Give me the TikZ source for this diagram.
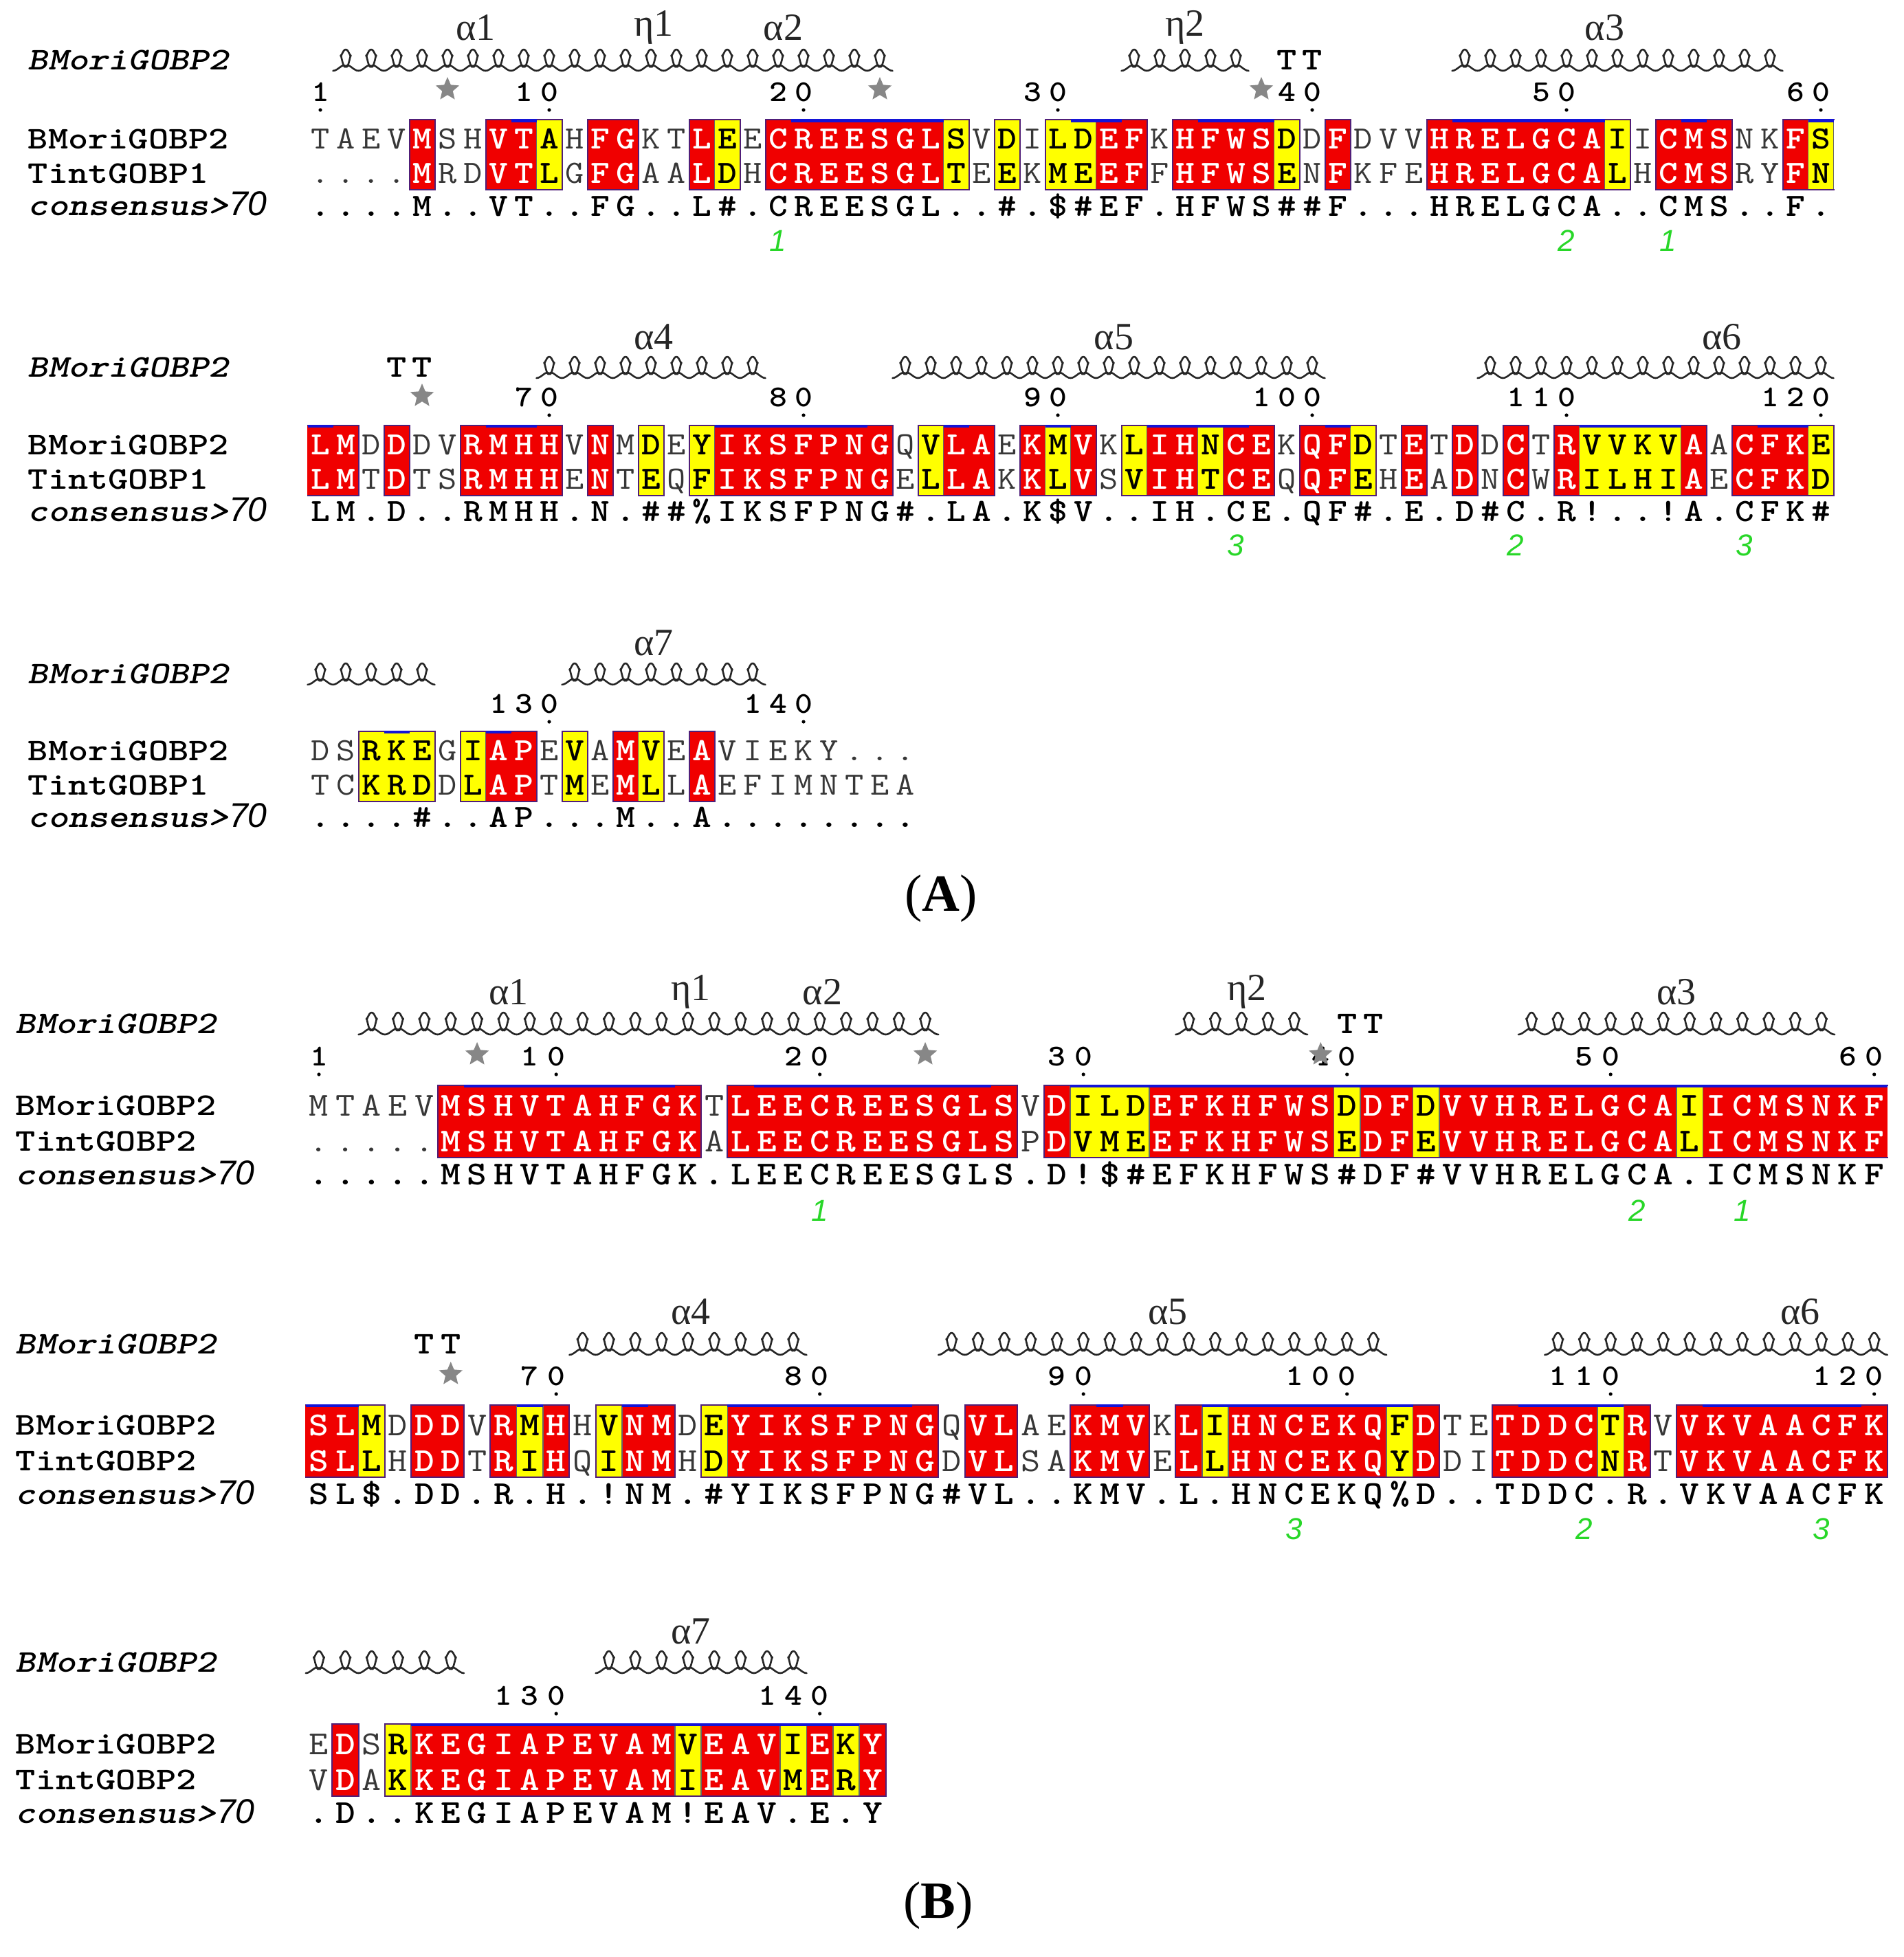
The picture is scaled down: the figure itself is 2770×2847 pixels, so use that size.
\documentclass[tikz,border=0pt]{standalone}
\usepackage{fontspec}
\usetikzlibrary{shapes.geometric}
\newfontfamily\rsserif{Liberation Serif}
\newfontfamily\rssans{Liberation Sans}
\definecolor{rsred}{RGB}{240,0,0}
\definecolor{rsyel}{RGB}{255,255,0}
\definecolor{rsblue}{RGB}{20,20,215}
\definecolor{rsframe}{RGB}{80,30,120}
\definecolor{rsgray}{RGB}{55,55,55}
\definecolor{rsstargray}{RGB}{135,135,135}
\definecolor{rsgreen}{RGB}{40,215,40}

\def\RSxo{466}\def\RSpitch{37}\def\RSgap{50}\def\RSgapc{97}\def\RSmt{27}\def\RSmb{24.5}\def\RSbase{15.5}\def\RSfs{11.8}\def\RShh{31}
\def\RShs{1.12}

\newcount\RScnt
\newcommand\RSfill[5]{\fill[#1] (#2,#3) rectangle (#4,#5);}
\newcommand\RSline[5]{\draw[#1] (#2,#3) -- (#4,#5);}
\newcommand\RSchar[4]{\global\advance\RScnt by 1\relax\node[#3] (c\the\RScnt) at (#1,#2) {\scalebox{\RShs}[1]{#4}};}
\newcommand\RSdot[2]{\global\advance\RScnt by 1\relax\node[rsdot] (d\the\RScnt) at (#1,#2) {};}

\ExplSyntaxOn
\str_new:N \l__rs_codes_str
\str_new:N \l__rs_sa_str
\str_new:N \l__rs_sb_str
\str_new:N \l__rs_sc_str
\str_new:N \l__rs_cur_str
\str_new:N \l__rs_prev_str
\str_new:N \l__rs_next_str
\str_new:N \l__rs_num_str
\tl_new:N \l__rs_ch_tl
\tl_new:N \l__rs_sty_tl
\tl_new:N \l__rs_top_tl
\tl_new:N \l__rs_bot_tl
\tl_new:N \l__rs_xl_tl
\tl_new:N \l__rs_xr_tl
\tl_new:N \l__rs_xc_tl
\int_new:N \l__rs_n_int
\int_new:N \l__rs_k_int
\int_new:N \l__rs_start_int
\int_new:N \l__rs_bs_int
\int_new:N \l__rs_be_int
\bool_new:N \l__rs_lopen_bool
\bool_new:N \l__rs_ropen_bool
\bool_new:N \l__rs_flag_bool
\bool_new:N \l__rs_lo_bool
\bool_new:N \l__rs_ro_bool

\cs_new:Npn \RSx #1 { \fp_eval:n { \RSxo + (#1 - 1) * \RSpitch } }

\cs_new_protected:Npn \__rs_frame:nn #1 #2
 {
  \bool_set_false:N \l__rs_lo_bool
  \bool_set_false:N \l__rs_ro_bool
  \bool_if:NT \l__rs_lopen_bool { \int_compare:nNnT {#1} = {1} { \bool_set_true:N \l__rs_lo_bool } }
  \bool_if:NT \l__rs_ropen_bool { \int_compare:nNnT {#2} = { \l__rs_n_int } { \bool_set_true:N \l__rs_ro_bool } }
  \tl_set:Nx \l__rs_xl_tl { \fp_eval:n { \RSxo + (#1 - 1.5) * \RSpitch } }
  \tl_set:Nx \l__rs_xr_tl { \fp_eval:n { \RSxo + (#2 - 0.5) * \RSpitch } }
  \use:e { \exp_not:N \RSline {rsfr} {\l__rs_xl_tl} {\l__rs_top_tl} {\l__rs_xr_tl} {\l__rs_top_tl} }
  \use:e { \exp_not:N \RSline {rsfr} {\l__rs_xl_tl} {\l__rs_bot_tl} {\l__rs_xr_tl} {\l__rs_bot_tl} }
  \bool_if:NF \l__rs_lo_bool { \use:e { \exp_not:N \RSline {rsfr} {\l__rs_xl_tl} {\l__rs_top_tl} {\l__rs_xl_tl} {\l__rs_bot_tl} } }
  \bool_if:NF \l__rs_ro_bool { \use:e { \exp_not:N \RSline {rsfr} {\l__rs_xr_tl} {\l__rs_top_tl} {\l__rs_xr_tl} {\l__rs_bot_tl} } }
  \bool_if:NTF \l__rs_lo_bool { \int_set:Nn \l__rs_bs_int {#1} } { \int_set:Nn \l__rs_bs_int {#1 + 1} }
  \bool_if:NTF \l__rs_ro_bool { \int_set:Nn \l__rs_be_int {#2} } { \int_set:Nn \l__rs_be_int {#2 - 1} }
  \int_compare:nNnF { \l__rs_bs_int } > { \l__rs_be_int }
   {
    \use:e { \exp_not:N \RSline {rsbar}
      { \fp_eval:n { \RSxo + (\int_use:N \l__rs_bs_int - 1.5) * \RSpitch } } { \fp_eval:n { \l__rs_top_tl + 1 } }
      { \fp_eval:n { \RSxo + (\int_use:N \l__rs_be_int - 0.5) * \RSpitch } } { \fp_eval:n { \l__rs_top_tl + 1 } } }
   }
 }

\NewDocumentCommand{\RSblock}{mmmmmmm}
 {
  \str_set:Nn \l__rs_codes_str {#2}
  \str_set:Nn \l__rs_sa_str {#3}
  \str_set:Nn \l__rs_sb_str {#4}
  \str_set:Nn \l__rs_sc_str {#5}
  \str_remove_all:Nn \l__rs_codes_str {~}
  \str_remove_all:Nn \l__rs_sa_str {~}
  \str_remove_all:Nn \l__rs_sb_str {~}
  \str_remove_all:Nn \l__rs_sc_str {~}
  \bool_set_false:N \l__rs_lopen_bool
  \bool_set_false:N \l__rs_ropen_bool
  \int_compare:nNnT {#6} = {1} { \bool_set_true:N \l__rs_lopen_bool }
  \int_compare:nNnT {#7} = {1} { \bool_set_true:N \l__rs_ropen_bool }
  \int_set:Nn \l__rs_n_int { \str_count:N \l__rs_codes_str }
  \tl_set:Nx \l__rs_top_tl { \fp_eval:n { #1 - \RSmt } }
  \tl_set:Nx \l__rs_bot_tl { \fp_eval:n { #1 + \RSgap + \RSmb } }
  % backgrounds
  \int_step_inline:nn { \l__rs_n_int }
   {
    \str_set:Nx \l__rs_cur_str { \str_item:Nn \l__rs_codes_str {##1} }
    \tl_clear:N \l__rs_sty_tl
    \exp_args:NV \str_if_eq:nnT \l__rs_cur_str {r} { \tl_set:Nn \l__rs_sty_tl {rsredfill} }
    \exp_args:NV \str_if_eq:nnT \l__rs_cur_str {y} { \tl_set:Nn \l__rs_sty_tl {rsyelfill} }
    \tl_if_empty:NF \l__rs_sty_tl
     {
      \use:e { \exp_not:N \RSfill {\l__rs_sty_tl}
        { \fp_eval:n { \RSxo + (##1 - 1.5) * \RSpitch - 0.4 } } { \l__rs_top_tl }
        { \fp_eval:n { \RSxo + (##1 - 0.5) * \RSpitch + 0.4 } } { \l__rs_bot_tl } }
     }
   }
  % yellow outlines
  \int_step_inline:nn { \l__rs_n_int }
   {
    \str_set:Nx \l__rs_cur_str { \str_item:Nn \l__rs_codes_str {##1} }
    \exp_args:NV \str_if_eq:nnT \l__rs_cur_str {y}
     {
      \str_set:Nx \l__rs_prev_str { \str_item:Nn \l__rs_codes_str { ##1 - 1 } }
      \str_set:Nx \l__rs_next_str { \str_item:Nn \l__rs_codes_str { ##1 + 1 } }
      \tl_set:Nx \l__rs_xl_tl { \fp_eval:n { \RSxo + (##1 - 1.5) * \RSpitch } }
      \tl_set:Nx \l__rs_xr_tl { \fp_eval:n { \RSxo + (##1 - 0.5) * \RSpitch } }
      \exp_args:NV \str_if_eq:nnF \l__rs_prev_str {y}
       { \use:e { \exp_not:N \RSline {rsyline} {\l__rs_xl_tl} {\l__rs_top_tl} {\l__rs_xl_tl} {\l__rs_bot_tl} } }
      \exp_args:NV \str_if_eq:nnF \l__rs_next_str {y}
       { \use:e { \exp_not:N \RSline {rsyline} {\l__rs_xr_tl} {\l__rs_top_tl} {\l__rs_xr_tl} {\l__rs_bot_tl} } }
     }
   }
  % frames
  \int_step_inline:nn { \l__rs_n_int }
   {
    \str_set:Nx \l__rs_cur_str { \str_item:Nn \l__rs_codes_str {##1} }
    \exp_args:NV \str_if_eq:nnF \l__rs_cur_str {w}
     {
      \str_set:Nx \l__rs_prev_str { \str_item:Nn \l__rs_codes_str { ##1 - 1 } }
      \str_set:Nx \l__rs_next_str { \str_item:Nn \l__rs_codes_str { ##1 + 1 } }
      \bool_set_false:N \l__rs_flag_bool
      \int_compare:nNnT {##1} = {1} { \bool_set_true:N \l__rs_flag_bool }
      \exp_args:NV \str_if_eq:nnT \l__rs_prev_str {w} { \bool_set_true:N \l__rs_flag_bool }
      \bool_if:NT \l__rs_flag_bool { \int_set:Nn \l__rs_start_int {##1} }
      \bool_set_false:N \l__rs_flag_bool
      \int_compare:nNnT {##1} = { \l__rs_n_int } { \bool_set_true:N \l__rs_flag_bool }
      \exp_args:NV \str_if_eq:nnT \l__rs_next_str {w} { \bool_set_true:N \l__rs_flag_bool }
      \bool_if:NT \l__rs_flag_bool
       { \use:e { \exp_not:N \__rs_frame:nn { \int_use:N \l__rs_start_int } {##1} } }
     }
   }
  % letters
  \int_step_inline:nn { \l__rs_n_int }
   {
    \str_set:Nx \l__rs_cur_str { \str_item:Nn \l__rs_codes_str {##1} }
    \tl_set:Nn \l__rs_sty_tl {rsLw}
    \exp_args:NV \str_if_eq:nnT \l__rs_cur_str {r} { \tl_set:Nn \l__rs_sty_tl {rsLr} }
    \exp_args:NV \str_if_eq:nnT \l__rs_cur_str {y} { \tl_set:Nn \l__rs_sty_tl {rsLy} }
    \tl_set:Nx \l__rs_xc_tl { \fp_eval:n { \RSxo + (##1 - 1) * \RSpitch } }
    \tl_set:Nx \l__rs_ch_tl { \str_item:Nn \l__rs_sa_str {##1} }
    \use:e { \exp_not:N \RSchar {\l__rs_xc_tl} { \fp_eval:n { #1 + \RSbase } } {\l__rs_sty_tl} { \exp_not:V \l__rs_ch_tl } }
    \tl_set:Nx \l__rs_ch_tl { \str_item:Nn \l__rs_sb_str {##1} }
    \use:e { \exp_not:N \RSchar {\l__rs_xc_tl} { \fp_eval:n { #1 + \RSgap + \RSbase } } {\l__rs_sty_tl} { \exp_not:V \l__rs_ch_tl } }
    \tl_set:Nx \l__rs_ch_tl { \str_item:Nn \l__rs_sc_str {##1} }
    \exp_args:NV \str_case:nnF \l__rs_ch_tl
      {
        {h} { \tl_set:Nn \l__rs_ch_tl { \# } }
        {d} { \tl_set:Nn \l__rs_ch_tl { \$ } }
        {p} { \tl_set:Nn \l__rs_ch_tl { \% } }
      } { }
    \use:e { \exp_not:N \RSchar {\l__rs_xc_tl} { \fp_eval:n { #1 + \RSgapc + \RSbase } } {rsLc} { \exp_not:V \l__rs_ch_tl } }
   }
 }

\NewDocumentCommand{\RSnum}{mmm}
 {
  \str_set:Nn \l__rs_num_str {#2}
  \int_set:Nn \l__rs_k_int { \str_count:N \l__rs_num_str }
  \int_step_inline:nn { \l__rs_k_int }
   {
    \use:e
     {
      \exp_not:N \RSchar
       { \fp_eval:n { \RSxo + (#1 - \int_use:N \l__rs_k_int + ##1 - 1) * \RSpitch } }
       { #3 } { rsnum }
       { \str_item:Nn \l__rs_num_str {##1} }
     }
   }
  \use:e { \exp_not:N \RSdot { \RSx{#1} } { \fp_eval:n { #3 + 26 } } }
 }
\ExplSyntaxOff

\newcommand\RSnodeAt[4]{\edef\RStmpx{\RSx{#1}}\global\advance\RScnt by 1\relax\node[#3] (t\the\RScnt) at (\RStmpx,#2) {#4};}
% helix: one cursive loop per column; #1 first column, #2 number of loops, #3 baseline y
\newcommand\RShelix[3]{\edef\RShx{\RSx{#1}}%
 \foreach \i in {1,...,#2}{%
   \pgfmathsetmacro\RShcx{\RShx+(\i-1)*\RSpitch}%
   \pgfmathsetmacro\RShl{\RShcx-0.5*\RSpitch}%
   \pgfmathsetmacro\RShr{\RShcx+0.5*\RSpitch}%
   \pgfmathsetmacro\RSha{\RShcx+0.2*\RSpitch}%
   \pgfmathsetmacro\RShb{\RShcx-0.2*\RSpitch}%
   \pgfmathsetmacro\RShyc{#3-0.2*\RShh}%
   \pgfmathsetmacro\RShys{#3-0.7*\RShh}%
   \pgfmathsetmacro\RShyt{#3-\RShh}%
   \draw[rshelix] (\RShl,#3) to[out=0,in=125] (\RShcx,\RShyc) to[out=-55,in=90] (\RSha,\RShys)
     to[out=-90,in=0] (\RShcx,\RShyt) to[out=180,in=-90] (\RShb,\RShys)
     to[out=90,in=-125] (\RShcx,\RShyc) to[out=55,in=180] (\RShr,#3);
 }}
\newcommand\RSname[1]{\scalebox{1.21}[1]{#1}}
\newcommand\RSseventy{{\mdseries\rssans\itshape\fontsize{12.5}{12.5}\selectfont 70}}

\tikzset{
 rsredfill/.style={fill=rsred},
 rsyelfill/.style={fill=rsyel},
 rsfr/.style={draw=rsframe, line width=0.5pt, line cap=rect},
 rsbar/.style={draw=rsblue, line width=1.1pt},
 rsyline/.style={draw=black!60, line width=0.4pt},
 rsLbase/.style={anchor=base, inner sep=0pt, outer sep=0pt},
 rsLw/.style={rsLbase, text=rsgray, font=\ttfamily\fontsize{\RSfs}{\RSfs}\selectfont},
 rsLr/.style={rsLbase, text=white, font=\ttfamily\bfseries\fontsize{\RSfs}{\RSfs}\selectfont},
 rsLy/.style={rsLbase, text=black, font=\ttfamily\bfseries\fontsize{\RSfs}{\RSfs}\selectfont},
 rsLc/.style={rsLbase, text=black, font=\ttfamily\bfseries\fontsize{\RSfs}{\RSfs}\selectfont},
 rsnum/.style={anchor=center, inner sep=0pt, text=black, font=\ttfamily\bfseries\fontsize{11}{11}\selectfont},
 rsdot/.style={circle, fill=black, inner sep=0pt, minimum size=1.3pt},
 rshelix/.style={draw=black!85, line width=0.65pt, line join=round, line cap=round},
 rslab/.style={anchor=center, inner sep=0pt, font=\rsserif\fontsize{14}{14}\selectfont, text=black!85},
 rsstar/.style={star, star points=5, star point ratio=2.2, fill=rsstargray, draw=none, inner sep=0pt, minimum size=9pt},
 rsTT/.style={anchor=center, inner sep=0pt, font=\ttfamily\bfseries\fontsize{11.5}{11.5}\selectfont},
 rsgreen/.style={anchor=center, inner sep=0pt, text=rsgreen, font=\rssans\itshape\fontsize{11}{11}\selectfont},
 rsname/.style={anchor=base west, inner sep=0pt, font=\ttfamily\bfseries\fontsize{11.5}{11.5}\selectfont},
 rsnamei/.style={anchor=west, inner sep=0pt, font=\ttfamily\bfseries\itshape\fontsize{11.5}{11.5}\selectfont},
 rspanel/.style={anchor=center, inner sep=0pt, font=\rsserif\fontsize{19}{19}\selectfont},
}

\begin{document}
\begin{tikzpicture}[x=0.25pt, y=-0.25pt]
\fill[white] (0,0) rectangle (2770,2847);
\useasboundingbox (0,0) rectangle (2770,2847);

% ================= Panel A =================
\def\RSxo{466}\def\RSpitch{37}\def\RSgap{50}\def\RSgapc{97}\def\RSmt{27}\def\RSmb{24.5}\def\RSbase{15.5}\def\RSfs{11.8}\def\RShh{31}

% ---- A row 1
\RSblock{201.5}{wwwwrwwrry wrrwwrywrr rrrrrywywy yrrwrrrryw rwwwrrrrrr rywrrrwwry}
 {TAEVMSHVTA HFGKTLEECR EESGLSVDIL DEFKHFWSDD FDVVHRELGC AIICMSNKFS}
 {....MRDVTL GFGAALDHCR EESGLTEEKM EEFFHFWSEN FKFEHRELGC ALHCMSRYFN}
 {....M..VT. .FG..Lh.CR EESGL..h.d hEF.HFWShh F...HRELGC A..CMS..F.}{0}{1}
\RShelix{2}{22}{103}\RShelix{33}{5}{103}\RShelix{46}{13}{103}
\RSnodeAt{7.1}{40}{rslab}{α1}\RSnodeAt{14.1}{40}{rslab}{η1}\RSnodeAt{19.2}{40}{rslab}{α2}
\RSnodeAt{35}{40}{rslab}{η2}\RSnodeAt{51.5}{40}{rslab}{α3}
\RSnodeAt{39}{87}{rsTT}{\RSname{T}}\RSnodeAt{40}{87}{rsTT}{\RSname{T}}
\RSnodeAt{6}{130}{rsstar}{}\RSnodeAt{23}{130}{rsstar}{}\RSnodeAt{38}{130}{rsstar}{}
\RSnum{1}{1}{134}\RSnum{10}{10}{134}\RSnum{20}{20}{134}\RSnum{30}{30}{134}\RSnum{40}{40}{134}\RSnum{50}{50}{134}\RSnum{60}{60}{134}
\RSnodeAt{19}{350}{rsgreen}{1}\RSnodeAt{50}{350}{rsgreen}{2}\RSnodeAt{54}{350}{rsgreen}{1}
\node[rsnamei] (a1n0) at (40,87) {\RSname{BMoriGOBP2}};
\node[rsname] (a1n1) at (40,216.5) {\RSname{BMoriGOBP2}};
\node[rsname] (a1n2) at (40,266.5) {\RSname{TintGOBP1}};
\node[rsname] (a1n3) at (40,313.5) {\RSname{\itshape consensus>}\RSseventy};

% ---- A row 2
\RSblock{646}{rrwrwwrrrr wrwywyrrrr rrrwyrrwry rwyrryrrwr rywrwrwrwr yyyyrwrrry}
 {LMDDDVRMHH VNMDEYIKSF PNGQVLAEKM VKLIHNCEKQ FDTETDDCTR VVKVAACFKE}
 {LMTDTSRMHH ENTEQFIKSF PNGELLAKKL VSVIHTCEQQ FEHEADNCWR ILHIAECFKD}
 {LM.D..RMHH .N.hhpIKSF PNGh.LA.Kd V..IH.CE.Q Fh.E.DhC.R !..!A.CFKh}{1}{0}
\RShelix{10}{9}{550}\RShelix{24}{17}{550}\RShelix{47}{14}{550}
\RSnodeAt{14.1}{490}{rslab}{α4}\RSnodeAt{32.2}{490}{rslab}{α5}\RSnodeAt{56.1}{490}{rslab}{α6}
\RSnodeAt{4}{534}{rsTT}{\RSname{T}}\RSnodeAt{5}{534}{rsTT}{\RSname{T}}
\RSnodeAt{5}{576}{rsstar}{}
\RSnum{10}{70}{578}\RSnum{20}{80}{578}\RSnum{30}{90}{578}\RSnum{40}{100}{578}\RSnum{50}{110}{578}\RSnum{60}{120}{578}
\RSnodeAt{37}{793}{rsgreen}{3}\RSnodeAt{48}{793}{rsgreen}{2}\RSnodeAt{57}{793}{rsgreen}{3}
\node[rsnamei] (a2n0) at (40,534) {\RSname{BMoriGOBP2}};
\node[rsname] (a2n1) at (40,661) {\RSname{BMoriGOBP2}};
\node[rsname] (a2n2) at (40,711) {\RSname{TintGOBP1}};
\node[rsname] (a2n3) at (40,758) {\RSname{\itshape consensus>}\RSseventy};

% ---- A row 3
\RSblock{1091}{wwyyywyrrw ywrywrwwww wwww}
 {DSRKEGIAPE VAMVEAVIEK Y...}
 {TCKRDDLAPT MEMLLAEFIM NTEA}
 {....h..AP. ..M..A.... ....}{0}{0}
\RShelix{1}{5}{996}\RShelix{11}{8}{996}
\RSnodeAt{14.1}{935}{rslab}{α7}
\RSnum{10}{130}{1024}\RSnum{20}{140}{1024}
\node[rsnamei] (a3n0) at (40,980) {\RSname{BMoriGOBP2}};
\node[rsname] (a3n1) at (40,1106) {\RSname{BMoriGOBP2}};
\node[rsname] (a3n2) at (40,1156) {\RSname{TintGOBP1}};
\node[rsname] (a3n3) at (40,1203) {\RSname{\itshape consensus>}\RSseventy};

\node[rspanel] (labA) at (1369,1307) {(\textbf{A})};

% ================= Panel B =================
\def\RSxo{464}\def\RSpitch{38.35}\def\RSgap{52}\def\RSgapc{100.5}\def\RSmt{28}\def\RSmb{25.4}\def\RSbase{16}\def\RSfs{12.2}\def\RShh{32}

% ---- B row 1
\RSblock{1607}{wwwwwrrrrr rrrrrwrrrr rrrrrrrwry yyrrrrrrry rryrrrrrrr rryrrrrrrr}
 {MTAEVMSHVT AHFGKTLEEC REESGLSVDI LDEFKHFWSD DFDVVHRELG CAIICMSNKF}
 {.....MSHVT AHFGKALEEC REESGLSPDV MEEFKHFWSE DFEVVHRELG CALICMSNKF}
 {.....MSHVT AHFGK.LEEC REESGLS.D! dhEFKHFWSh DFhVVHRELG CA.ICMSNKF}{0}{1}
\RShelix{3}{22}{1505}\RShelix{34}{5}{1505}\RShelix{47}{12}{1505}
\RSnodeAt{8.2}{1443}{rslab}{α1}\RSnodeAt{15.1}{1443}{rslab}{η1}\RSnodeAt{20.1}{1443}{rslab}{α2}
\RSnodeAt{36.2}{1443}{rslab}{η2}\RSnodeAt{52.5}{1443}{rslab}{α3}
\RSnodeAt{40}{1489}{rsTT}{\RSname{T}}\RSnodeAt{41}{1489}{rsTT}{\RSname{T}}
\RSnum{1}{1}{1537}\RSnum{10}{10}{1537}\RSnum{20}{20}{1537}\RSnum{30}{30}{1537}\RSnum{40}{40}{1537}\RSnum{50}{50}{1537}\RSnum{60}{60}{1537}
\RSnodeAt{7}{1534}{rsstar}{}\RSnodeAt{24}{1534}{rsstar}{}\RSnodeAt{39}{1534}{rsstar}{}
\RSnodeAt{20}{1761}{rsgreen}{1}\RSnodeAt{51}{1761}{rsgreen}{2}\RSnodeAt{55}{1761}{rsgreen}{1}
\node[rsnamei] (b1n0) at (22,1489) {\RSname{BMoriGOBP2}};
\node[rsname] (b1n1) at (22,1622.5) {\RSname{BMoriGOBP2}};
\node[rsname] (b1n2) at (22,1674.5) {\RSname{TintGOBP2}};
\node[rsname] (b1n3) at (22,1723) {\RSname{\itshape consensus>}\RSseventy};

% ---- B row 2
\RSblock{2072}{rrywrrwryr wyrrwyrrrr rrrrwrrwwr rrwryrrrrr ryrwwrrrry rwrrrrrrrr}
 {SLMDDDVRMH HVNMDEYIKS FPNGQVLAEK MVKLIHNCEK QFDTETDDCT RVVKVAACFK}
 {SLLHDDTRIH QINMHDYIKS FPNGDVLSAK MVELLHNCEK QYDDITDDCN RTVKVAACFK}
 {SLd.DD.R.H .!NM.hYIKS FPNGhVL..K MV.L.HNCEK QpD..TDDC. R.VKVAACFK}{1}{0}
\RShelix{11}{9}{1971}\RShelix{25}{17}{1971}\RShelix{48}{13}{1971}
\RSnodeAt{15.1}{1908}{rslab}{α4}\RSnodeAt{33.2}{1908}{rslab}{α5}\RSnodeAt{57.2}{1908}{rslab}{α6}
\RSnodeAt{5}{1955}{rsTT}{\RSname{T}}\RSnodeAt{6}{1955}{rsTT}{\RSname{T}}
\RSnodeAt{6}{1999}{rsstar}{}
\RSnum{10}{70}{2002}\RSnum{20}{80}{2002}\RSnum{30}{90}{2002}\RSnum{40}{100}{2002}\RSnum{50}{110}{2002}\RSnum{60}{120}{2002}
\RSnodeAt{38}{2224}{rsgreen}{3}\RSnodeAt{49}{2224}{rsgreen}{2}\RSnodeAt{58}{2224}{rsgreen}{3}
\node[rsnamei] (b2n0) at (22,1955) {\RSname{BMoriGOBP2}};
\node[rsname] (b2n1) at (22,2087.5) {\RSname{BMoriGOBP2}};
\node[rsname] (b2n2) at (22,2139.5) {\RSname{TintGOBP2}};
\node[rsname] (b2n3) at (22,2188) {\RSname{\itshape consensus>}\RSseventy};

% ---- B row 3
\RSblock{2536}{wrwyrrrrrr rrrryrrryr yr}
 {EDSRKEGIAP EVAMVEAVIE KY}
 {VDAKKEGIAP EVAMIEAVME RY}
 {.D..KEGIAP EVAM!EAV.E .Y}{0}{0}
\RShelix{1}{6}{2434}\RShelix{12}{8}{2434}
\RSnodeAt{15.1}{2373}{rslab}{α7}
\RSnum{10}{130}{2467}\RSnum{20}{140}{2467}
\node[rsnamei] (b3n0) at (22,2418) {\RSname{BMoriGOBP2}};
\node[rsname] (b3n1) at (22,2551.5) {\RSname{BMoriGOBP2}};
\node[rsname] (b3n2) at (22,2603.5) {\RSname{TintGOBP2}};
\node[rsname] (b3n3) at (22,2652) {\RSname{\itshape consensus>}\RSseventy};

\node[rspanel] (labB) at (1365,2772) {(\textbf{B})};
\end{tikzpicture}
\end{document}
